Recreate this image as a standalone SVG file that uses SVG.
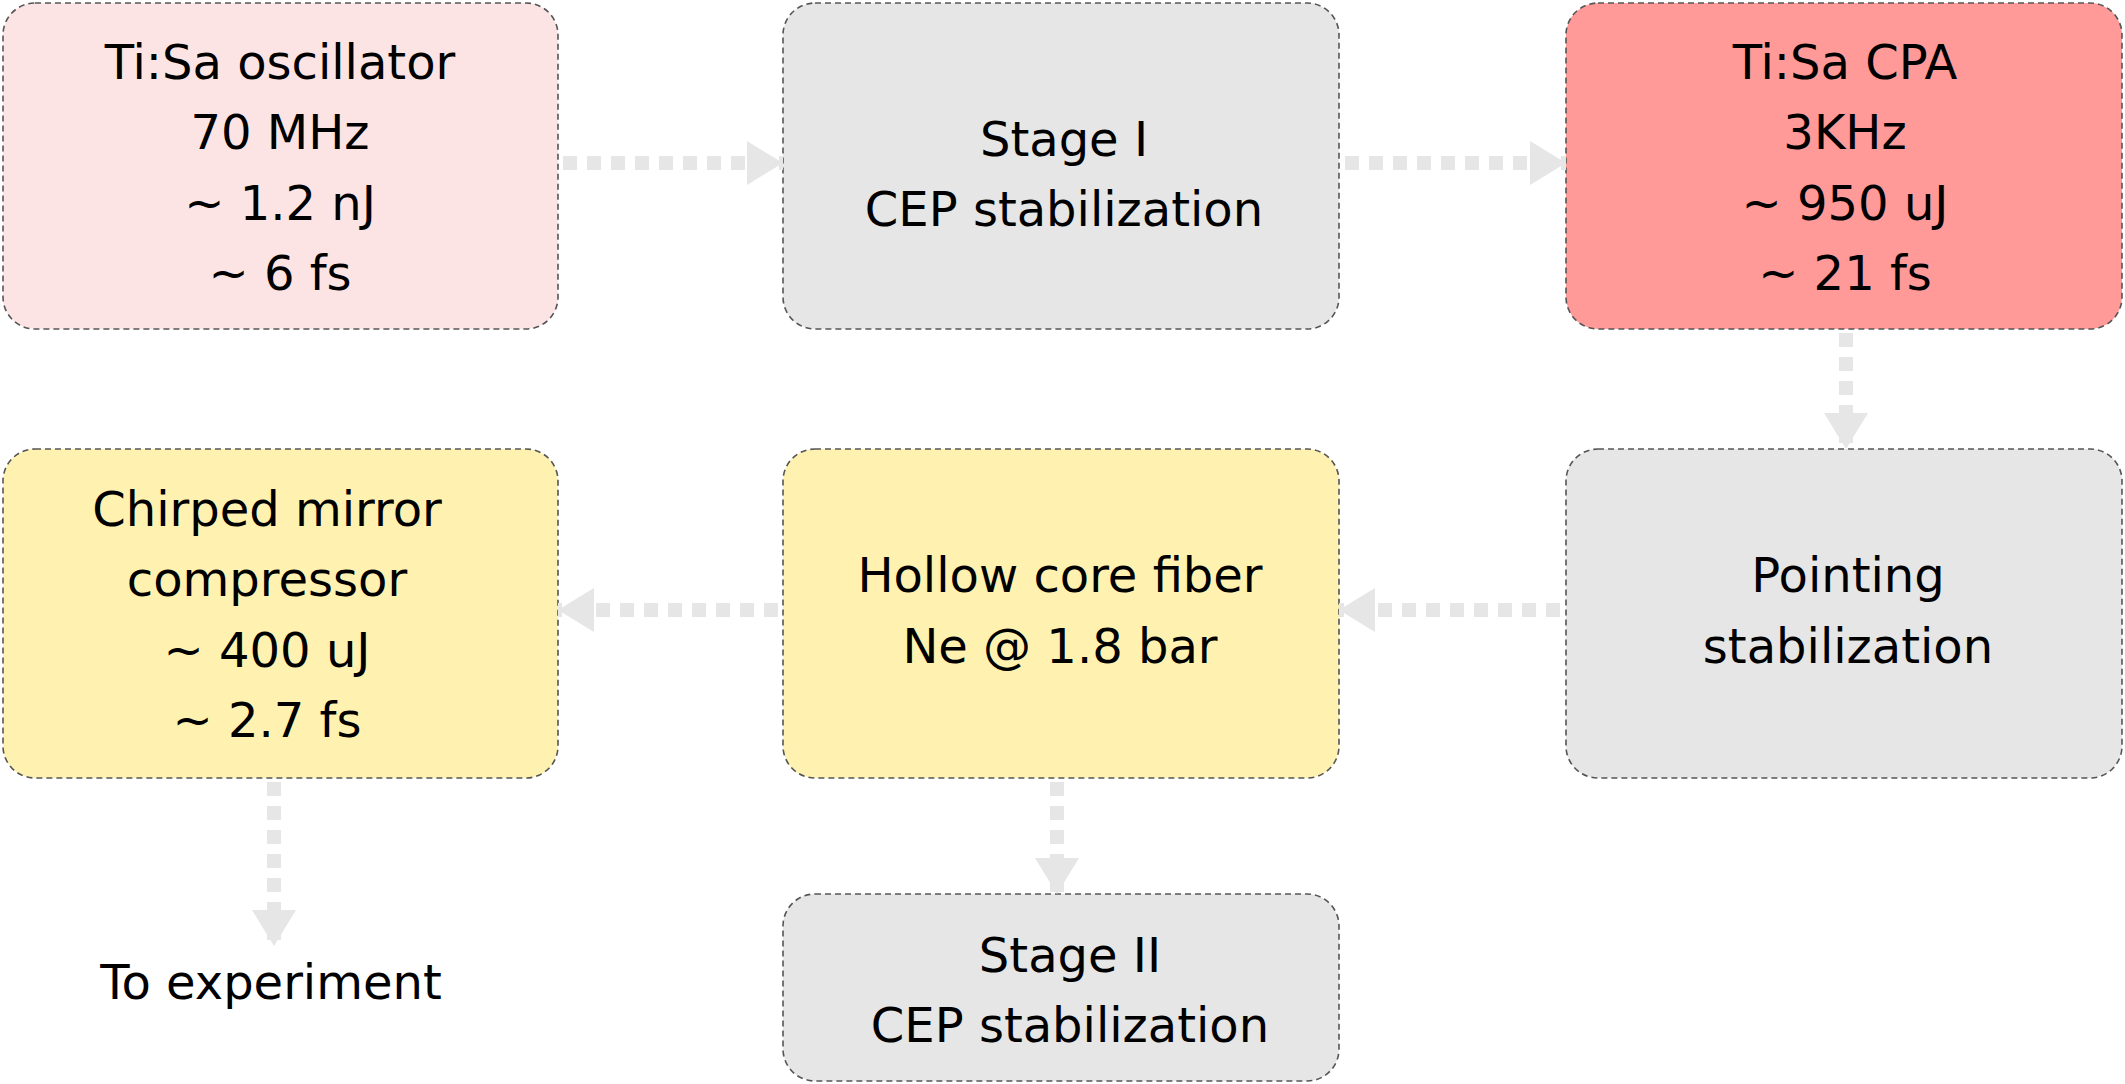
<svg xmlns="http://www.w3.org/2000/svg" width="2125" height="1084" viewBox="0 0 2125 1084">
<style>
.b{stroke:#555;stroke-width:1.6;stroke-dasharray:6 4}
.t{font-family:"DejaVu Sans",Verdana,sans-serif;font-size:48px;fill:#000;text-anchor:middle}
.c{stroke:#e6e6e6;stroke-width:14;stroke-dasharray:14 10;fill:none}
</style>
<defs>
<marker id="a" markerUnits="userSpaceOnUse" markerWidth="36" markerHeight="44" refX="36" refY="22" orient="auto"><path d="M0,0 L36,22 L0,44 Z" fill="#e6e6e6"/></marker>
</defs>
<rect width="2125" height="1084" fill="#fff"/>
<g id="n1"><rect class="b" x="3" y="3" width="555" height="326" rx="32" fill="#fde4e4"/>
<text class="t" x="280" y="79">Ti:Sa oscillator</text><text class="t" x="280" y="149">70 MHz</text><text class="t" x="280" y="220">~ 1.2 nJ</text><text class="t" x="280" y="290">~ 6 fs</text></g>
<g id="n2"><rect class="b" x="783" y="3" width="556" height="326" rx="32" fill="#e6e6e6"/>
<text class="t" x="1064" y="156">Stage I</text><text class="t" x="1064" y="226">CEP stabilization</text></g>
<g id="n3"><rect class="b" x="1566" y="3" width="556" height="326" rx="32" fill="#ff9a98"/>
<text class="t" x="1845" y="79">Ti:Sa CPA</text><text class="t" x="1845" y="149">3KHz</text><text class="t" x="1845" y="220">~ 950 uJ</text><text class="t" x="1845" y="290">~ 21 fs</text></g>
<g id="n4"><rect class="b" x="1566" y="449" width="556" height="329" rx="32" fill="#e6e6e6"/>
<text class="t" x="1848" y="592">Pointing</text><text class="t" x="1848" y="663">stabilization</text></g>
<g id="n5"><rect class="b" x="783" y="449" width="556" height="329" rx="32" fill="#fff2b0"/>
<text class="t" x="1060" y="592">Hollow core fiber</text><text class="t" x="1060" y="663">Ne @ 1.8 bar</text></g>
<g id="n6"><rect class="b" x="3" y="449" width="555" height="329" rx="32" fill="#fff2b0"/>
<text class="t" x="267" y="526">Chirped mirror</text><text class="t" x="267" y="596">compressor</text><text class="t" x="267" y="667">~ 400 uJ</text><text class="t" x="267" y="737">~ 2.7 fs</text></g>
<g id="n7"><rect class="b" x="783" y="894" width="556" height="187" rx="32" fill="#e6e6e6"/>
<text class="t" x="1070" y="972">Stage II</text><text class="t" x="1070" y="1042">CEP stabilization</text></g>
<g id="n8"><text class="t" x="271" y="999">To experiment</text></g>
<g id="connectors">
<path class="c" d="M563,163 H783" marker-end="url(#a)"/>
<path class="c" d="M1345,163 H1566" marker-end="url(#a)"/>
<path class="c" d="M1846,333 V449" marker-end="url(#a)"/>
<path class="c" d="M1560,610 H1339" marker-end="url(#a)"/>
<path class="c" d="M778,610 H558" marker-end="url(#a)"/>
<path class="c" d="M1057,782 V894" marker-end="url(#a)"/>
<path class="c" d="M274,782 V946" marker-end="url(#a)"/>
</g>
</svg>
